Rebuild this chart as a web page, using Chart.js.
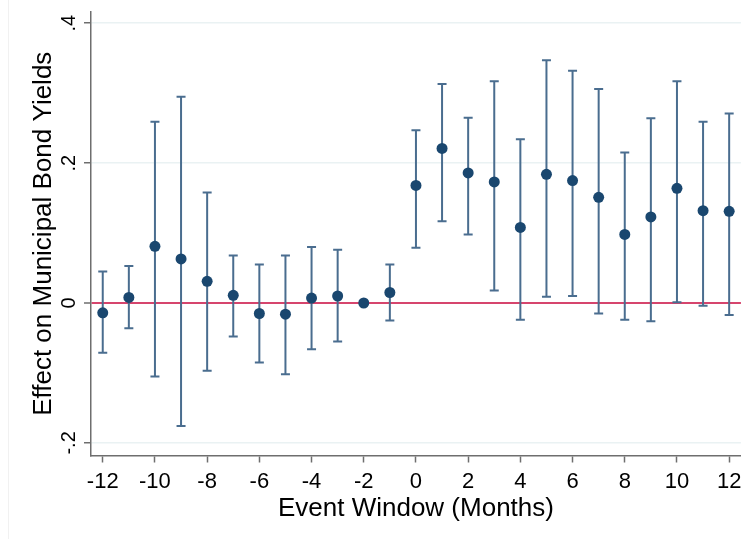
<!DOCTYPE html>
<html>
<head>
<meta charset="utf-8">
<script src="https://cdn.jsdelivr.net/npm/chart.js@4"></script>
<style>
    html, body { margin: 0; padding: 0; background: #fff; }
    #wrap { position: relative; width: 748px; height: 539px; }
    #wrap:before { content: ''; position: absolute; left: 8px; top: 0; bottom: 0; border-left: 1px solid #f1f1f1; }
</style>
</head>
<body>
<div id="wrap"><canvas id="chart" width="748" height="539"></canvas></div>
<script>
const months = [-12, -11, -10, -9, -8, -7, -6, -5, -4, -3, -2, -1, 0, 1, 2, 3, 4, 5, 6, 7, 8, 9, 10, 11, 12];
const estimates = [-0.014, 0.008, 0.081, 0.063, 0.031, 0.011, -0.015, -0.016, 0.007, 0.010, 0.000, 0.015,
                   0.168, 0.221, 0.186, 0.173, 0.108, 0.184, 0.175, 0.151, 0.098, 0.123, 0.164, 0.132, 0.131];
const ciLow = [-0.071, -0.036, -0.105, -0.176, -0.097, -0.048, -0.085, -0.102, -0.066, -0.055, null, -0.025,
               0.079, 0.117, 0.098, 0.018, -0.024, 0.009, 0.010, -0.015, -0.024, -0.026, 0.001, -0.004, -0.017];
const ciHigh = [0.045, 0.053, 0.259, 0.295, 0.158, 0.068, 0.055, 0.068, 0.080, 0.076, null, 0.055,
                0.247, 0.313, 0.265, 0.317, 0.234, 0.347, 0.332, 0.306, 0.215, 0.264, 0.317, 0.259, 0.271];
const xTicks = [-12, -10, -8, -6, -4, -2, 0, 2, 4, 6, 8, 10, 12];
const yTicks = [-0.2, 0, 0.2, 0.4];
const yTickLabels = ['-.2', '0', '.2', '.4'];

const navy = '#1a476f';
const barColor = '#4a6d8f';
const axisColor = '#6e6e6e';
const fontFamily = 'Arial, "Liberation Sans", sans-serif';

// 误差线（带帽）
const errorBars = {
    id: 'errorBars',
    beforeDatasetsDraw(chart) {
        const ctx = chart.ctx;
        const xs = chart.scales.x, ys = chart.scales.y;
        ctx.save();
        ctx.strokeStyle = barColor;
        ctx.lineWidth = 2;
        months.forEach((m, i) => {
            if (ciLow[i] === null || ciHigh[i] === null) return;
            const x = xs.getPixelForValue(m);
            const yl = ys.getPixelForValue(ciLow[i]);
            const yh = ys.getPixelForValue(ciHigh[i]);
            ctx.beginPath();
            ctx.moveTo(x, yl); ctx.lineTo(x, yh);
            ctx.moveTo(x - 4.5, yl); ctx.lineTo(x + 4.5, yl);
            ctx.moveTo(x - 4.5, yh); ctx.lineTo(x + 4.5, yh);
            ctx.stroke();
        });
        ctx.restore();
    }
};

// 旋转的 y 轴刻度标签
const yLabels = {
    id: 'yLabels',
    afterDraw(chart) {
        const ctx = chart.ctx;
        const ys = chart.scales.y;
        ctx.save();
        ctx.fillStyle = '#000';
        ctx.font = '20px ' + fontFamily;
        ctx.textAlign = 'center';
        ctx.textBaseline = 'middle';
        yTicks.forEach((v, i) => {
            ctx.save();
            ctx.translate(69, ys.getPixelForValue(v));
            ctx.rotate(-Math.PI / 2);
            ctx.fillText(yTickLabels[i], 0, 0);
            ctx.restore();
        });
        ctx.restore();
    }
};

new Chart(document.getElementById('chart').getContext('2d'), {
    type: 'scatter',
    data: {
        datasets: [{
            data: months.map((m, i) => ({ x: m, y: estimates[i] })),
            backgroundColor: navy,
            borderColor: navy,
            borderWidth: 0,
            pointRadius: 5.5,
            pointHoverRadius: 5.5
        }]
    },
    options: {
        responsive: false,
        animation: false,
        devicePixelRatio: 1,
        layout: { padding: { left: 0, right: 4, top: 12, bottom: 0 } },
        plugins: {
            legend: { display: false },
            tooltip: { enabled: false }
        },
        scales: {
            x: {
                type: 'linear',
                min: -12.45,
                max: 12.45,
                afterBuildTicks: axis => { axis.ticks = xTicks.map(v => ({ value: v })); },
                grid: {
                    drawOnChartArea: false,
                    drawTicks: true,
                    tickLength: 7,
                    tickColor: axisColor,
                    tickWidth: 1.5
                },
                border: { display: true, color: axisColor, width: 1.5 },
                ticks: {
                    color: '#000',
                    padding: 6.5,
                    maxRotation: 0,
                    font: { family: fontFamily, size: 22 },
                    callback: v => String(v)
                },
                title: {
                    display: true,
                    text: 'Event Window (Months)',
                    color: '#000',
                    font: { family: fontFamily, size: 26 },
                    padding: { top: -8.5, bottom: 14.4 }
                }
            },
            y: {
                type: 'linear',
                min: -0.218,
                max: 0.416,
                afterBuildTicks: axis => { axis.ticks = yTicks.map(v => ({ value: v })); },
                grid: {
                    color: ctx => ctx.tick && ctx.tick.value === 0 ? '#d6456d' : '#eaf2f3',
                    lineWidth: ctx => ctx.tick && ctx.tick.value === 0 ? 2 : 1.5,
                    drawTicks: true,
                    tickLength: 7,
                    tickColor: axisColor,
                    tickWidth: 1.5
                },
                border: { display: true, color: axisColor, width: 1.5 },
                ticks: { display: false },
                title: {
                    display: true,
                    text: 'Effect on Municipal Bond Yields',
                    color: '#000',
                    font: { family: fontFamily, size: 26 },
                    padding: { top: 28.4, bottom: 24.4 }
                }
            }
        }
    },
    plugins: [errorBars, yLabels]
});
</script>
</body>
</html>
